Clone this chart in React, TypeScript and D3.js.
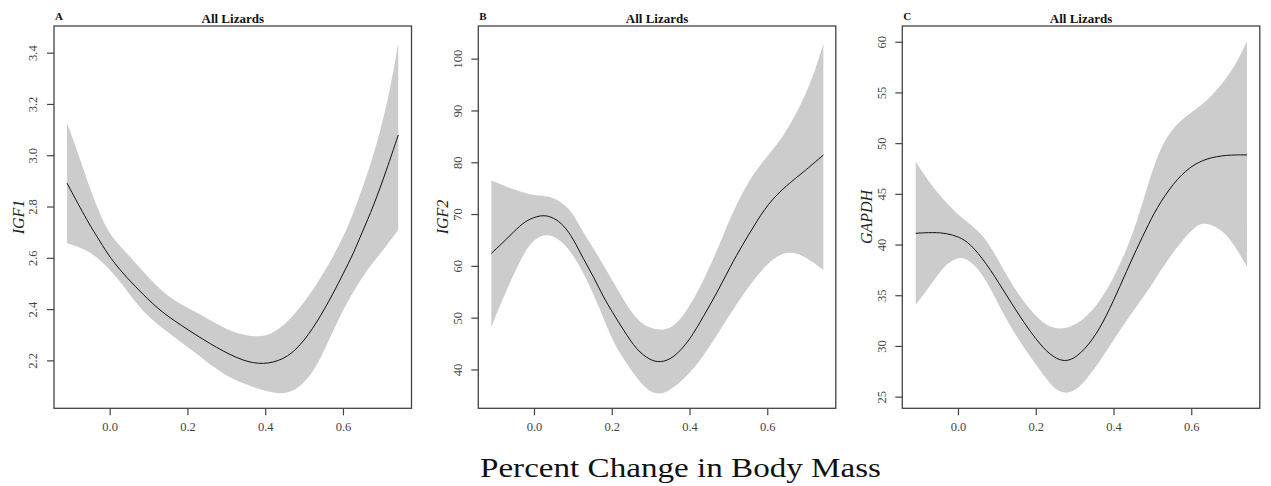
import React, { useEffect, useRef } from "react";
import * as d3 from "d3";

// x ticks shared by all panels
const xTicks = [0, 0.2, 0.4, 0.6];

// Panel A - IGF1
const fitA = [
  [-0.111, 2.893], [-0.056, 2.737], [-0.026, 2.666], [0.0, 2.601], [0.043, 2.523],
  [0.086, 2.458], [0.129, 2.393], [0.2, 2.321], [0.274, 2.25], [0.343, 2.198],
  [0.394, 2.185], [0.446, 2.204], [0.488, 2.256], [0.531, 2.347], [0.574, 2.464],
  [0.6, 2.542], [0.626, 2.62], [0.647, 2.698], [0.677, 2.802], [0.711, 2.945],
  [0.741, 3.081],
];
const upperA = [
  [-0.111, 3.127], [-0.08, 3.0], [-0.05, 2.86], [-0.02, 2.75], [0.0, 2.69],
  [0.043, 2.62], [0.086, 2.545], [0.146, 2.451], [0.2, 2.406], [0.248, 2.367],
  [0.317, 2.308], [0.368, 2.295], [0.403, 2.295], [0.446, 2.334], [0.488, 2.406],
  [0.531, 2.497], [0.574, 2.607], [0.608, 2.711], [0.626, 2.78], [0.66, 2.919],
  [0.694, 3.088], [0.72, 3.257], [0.741, 3.439],
];
const lowerA = [
  [-0.111, 2.659], [-0.059, 2.633], [-0.026, 2.594], [0.017, 2.529], [0.06, 2.437],
  [0.111, 2.35], [0.2, 2.256], [0.274, 2.165], [0.317, 2.126], [0.386, 2.087],
  [0.428, 2.072], [0.471, 2.075], [0.514, 2.139], [0.54, 2.204], [0.574, 2.321],
  [0.617, 2.451], [0.66, 2.555], [0.703, 2.633], [0.741, 2.711],
];
const yTicksA = [2.2, 2.4, 2.6, 2.8, 3.0, 3.2, 3.4];

// Panel B - IGF2
const fitB = [
  [-0.111, 62.5], [-0.071, 65.3], [-0.037, 67.95], [-0.011, 69.25], [0.023, 70.0],
  [0.049, 69.4], [0.075, 68.0], [0.1, 65.3], [0.126, 61.4], [0.152, 58.0],
  [0.177, 54.1], [0.2, 51.2], [0.229, 47.7], [0.263, 43.8], [0.297, 41.9],
  [0.323, 41.4], [0.357, 42.2], [0.4, 45.8], [0.434, 50.3], [0.469, 54.8],
  [0.503, 59.9], [0.537, 64.4], [0.563, 67.6], [0.6, 72.1], [0.649, 75.7],
  [0.692, 78.2], [0.743, 81.5],
];
const upperB = [
  [-0.111, 76.6], [-0.071, 75.3], [-0.037, 74.4], [0.0, 73.7], [0.04, 73.6],
  [0.075, 72.1], [0.1, 70.2], [0.126, 66.4], [0.16, 62.5], [0.195, 58.0],
  [0.229, 53.5], [0.26, 50.0], [0.29, 48.2], [0.32, 47.7], [0.345, 47.8],
  [0.375, 49.6], [0.409, 53.5], [0.443, 58.6], [0.477, 64.4], [0.51, 70.5],
  [0.554, 77.0], [0.597, 81.1], [0.64, 85.0], [0.683, 90.8], [0.717, 96.6],
  [0.743, 103.0],
];
const lowerB = [
  [-0.111, 48.3], [-0.08, 54.1], [-0.045, 59.9], [-0.011, 64.7], [0.023, 66.2],
  [0.049, 65.9], [0.075, 64.5], [0.1, 62.2], [0.135, 57.5], [0.165, 52.3],
  [0.2, 45.8], [0.22, 43.2], [0.254, 39.3], [0.289, 36.1], [0.315, 35.3],
  [0.34, 35.6], [0.383, 38.0], [0.434, 42.5], [0.477, 47.7], [0.52, 52.8],
  [0.563, 57.3], [0.606, 61.2], [0.649, 63.0], [0.692, 62.2], [0.743, 59.3],
];
const yTicksB = [40, 50, 60, 70, 80, 90, 100];

// Panel C - GAPDH
const fitC = [
  [-0.11, 41.16], [-0.065, 41.26], [-0.031, 41.16], [0.0, 40.83], [0.029, 40.2],
  [0.072, 38.2], [0.115, 35.57], [0.158, 32.94], [0.2, 30.64], [0.235, 29.16],
  [0.269, 28.44], [0.303, 28.84], [0.346, 30.64], [0.38, 32.94], [0.415, 35.9],
  [0.449, 38.86], [0.483, 41.6], [0.509, 43.6], [0.552, 46.1], [0.595, 47.73],
  [0.638, 48.56], [0.689, 48.89], [0.742, 48.89],
];
const upperC = [
  [-0.11, 48.23], [-0.074, 46.1], [-0.031, 44.12], [0.0, 42.97], [0.038, 41.8],
  [0.063, 41.0], [0.098, 38.86], [0.14, 35.9], [0.183, 33.6], [0.226, 31.95],
  [0.269, 31.63], [0.312, 32.29], [0.355, 33.93], [0.397, 36.56], [0.432, 39.5],
  [0.46, 42.4], [0.49, 46.3], [0.517, 49.4], [0.552, 51.68], [0.595, 53.0],
  [0.638, 54.14], [0.68, 55.96], [0.715, 57.93], [0.742, 60.06],
];
const lowerC = [
  [-0.11, 34.1], [-0.074, 35.9], [-0.04, 37.87], [-0.005, 38.8], [0.021, 38.7],
  [0.055, 37.55], [0.089, 35.25], [0.123, 32.6], [0.166, 29.98], [0.209, 27.68],
  [0.243, 25.88], [0.269, 25.38], [0.295, 25.45], [0.329, 26.7], [0.372, 29.0],
  [0.415, 31.63], [0.458, 33.93], [0.5, 36.23], [0.543, 38.86], [0.577, 40.5],
  [0.603, 41.6], [0.629, 42.3], [0.663, 41.8], [0.697, 40.83], [0.742, 37.87],
];
const yTicksC = [25, 30, 35, 40, 45, 50, 55, 60];

const panels = [
  { letter: "A", ylab: "IGF1", fit: fitA, upper: upperA, lower: lowerA, ticks: yTicksA, yDomain: [2.015, 3.506], left: 54, fmt: d3.format(".1f") },
  { letter: "B", ylab: "IGF2", fit: fitB, upper: upperB, lower: lowerB, ticks: yTicksB, yDomain: [32.6, 106.4], left: 478.3, fmt: d3.format("d") },
  { letter: "C", ylab: "GAPDH", fit: fitC, upper: upperC, lower: lowerC, ticks: yTicksC, yDomain: [23.9, 61.6], left: 902.3, fmt: d3.format("d") },
];

const W = 1271;
const H = 486;
const panelW = 357.5;
const top = 26;
const bottom = 408.3;
const serif = "'Liberation Serif', 'Times New Roman', serif";

const App = () => {
  const ref = useRef(null);

  useEffect(() => {
    const svg = d3.select(ref.current);
    svg.selectAll("*").remove();

    panels.forEach((p) => {
      const x = d3.scaleLinear().domain([-0.1445, 0.775]).range([p.left, p.left + panelW]);
      const y = d3.scaleLinear().domain(p.yDomain).range([bottom, top]);
      const line = d3
        .line()
        .x((d) => x(d[0]))
        .y((d) => y(d[1]))
        .curve(d3.curveBasis);

      const g = svg.append("g");

      // confidence band: upper edge forward, lower edge back
      const bandPath =
        line(p.upper) + line(p.lower.slice().reverse()).replace(/^M/, "L") + "Z";
      g.append("path").attr("d", bandPath).attr("fill", "#cccccc");

      g.append("path")
        .attr("d", line(p.fit))
        .attr("fill", "none")
        .attr("stroke", "#111")
        .attr("stroke-width", 1);

      // box
      g.append("rect")
        .attr("x", p.left)
        .attr("y", top)
        .attr("width", panelW)
        .attr("height", bottom - top)
        .attr("fill", "none")
        .attr("stroke", "#444")
        .attr("stroke-width", 1.3);

      // x axis
      const xa = g.append("g");
      xTicks.forEach((t) => {
        xa.append("line")
          .attr("x1", x(t)).attr("x2", x(t))
          .attr("y1", bottom).attr("y2", bottom + 7)
          .attr("stroke", "#444").attr("stroke-width", 1.2);
        xa.append("text")
          .attr("x", x(t))
          .attr("y", 431)
          .attr("text-anchor", "middle")
          .attr("font-family", serif)
          .attr("font-size", 12.5)
          .attr("fill", "#444")
          .text(d3.format(".1f")(t));
      });

      // y axis
      const ya = g.append("g");
      p.ticks.forEach((t) => {
        ya.append("line")
          .attr("x1", p.left - 7).attr("x2", p.left)
          .attr("y1", y(t)).attr("y2", y(t))
          .attr("stroke", "#444").attr("stroke-width", 1.2);
        ya.append("text")
          .attr("transform", `translate(${p.left - 21},${y(t)}) rotate(-90)`)
          .attr("text-anchor", "middle")
          .attr("dy", "0.35em")
          .attr("font-family", serif)
          .attr("font-size", 12.5)
          .attr("fill", "#444")
          .text(p.fmt(t));
      });

      g.append("text")
        .attr("transform", `translate(${p.left - 36},217) rotate(-90)`)
        .attr("text-anchor", "middle")
        .attr("dy", "0.35em")
        .attr("font-family", serif)
        .attr("font-style", "italic")
        .attr("font-size", 16)
        .attr("fill", "#222")
        .text(p.ylab);

      g.append("text")
        .attr("x", p.left + panelW / 2)
        .attr("y", 22.5)
        .attr("text-anchor", "middle")
        .attr("font-family", serif)
        .attr("font-weight", "bold")
        .attr("font-size", 13)
        .attr("fill", "#111")
        .text("All Lizards");

      g.append("text")
        .attr("x", p.left + 1)
        .attr("y", 19.5)
        .attr("font-family", serif)
        .attr("font-weight", "bold")
        .attr("font-size", 11)
        .attr("fill", "#111")
        .text(p.letter);
    });

    svg.append("text")
      .attr("x", 480)
      .attr("y", 477)
      .attr("font-family", serif)
      .attr("font-size", 28)
      .attr("fill", "#111")
      .attr("textLength", 401)
      .attr("lengthAdjust", "spacingAndGlyphs")
      .text("Percent Change in Body Mass");
  }, []);

  return (
    <div>
      <style>{"body{margin:0;background:#fff}"}</style>
      <svg ref={ref} width={W} height={H} style={{ display: "block" }} />
    </div>
  );
};

export default App;
